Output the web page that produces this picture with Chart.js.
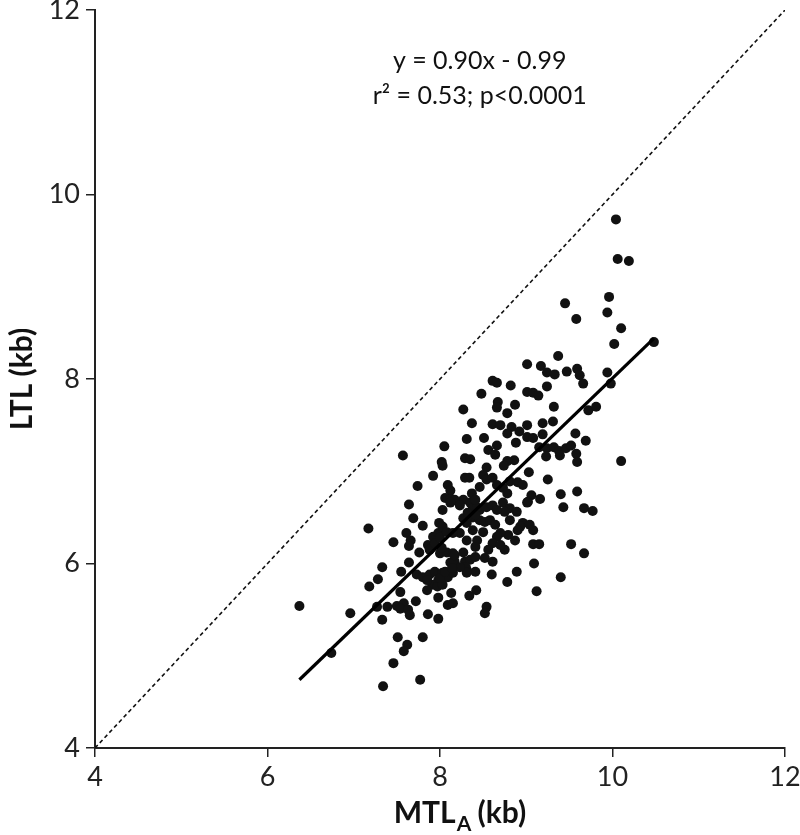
<!DOCTYPE html>
<html>
<head>
<meta charset="utf-8">
<script src="https://cdn.jsdelivr.net/npm/chart.js@4"></script>
<style>
html,body{margin:0;padding:0;background:#fff;}
canvas{display:block;}
</style>
</head>
<body>
<canvas id="c" width="800" height="835"></canvas>
<script>
// MTL_A (kb) values of each subject
const mtlA = [
10.04,10.06,10.19,9.96,9.45,9.94,9.58,10.10,10.02,10.48,
9.37,9.01,9.17,9.59,9.62,9.66,9.47,9.24,9.33,9.94,
9.98,8.61,8.66,8.82,8.48,9.01,9.08,9.14,9.24,8.27,
8.67,8.66,8.78,8.87,9.32,9.72,9.81,8.37,8.61,8.70,
8.83,8.92,9.01,9.19,9.31,8.78,8.31,8.51,9.01,9.08,
9.19,9.57,9.69,8.88,8.66,8.56,9.15,9.24,9.32,9.38,
9.46,9.52,9.39,9.23,9.58,9.59,10.10,8.64,8.29,8.35,
8.86,8.78,8.74,8.54,9.03,8.29,8.50,8.54,8.61,8.66,
8.81,8.90,8.96,8.73,8.78,9.25,8.37,9.06,9.02,9.16,
9.40,9.59,9.43,9.67,9.77,8.46,8.54,8.61,8.73,8.81,
8.89,8.27,8.38,8.46,8.96,9.04,
8.05,7.57,8.02,8.03,7.92,7.74,8.09,8.12,8.06,8.12,
8.17,7.64,8.03,8.35,8.38,7.69,7.80,7.99,7.17,8.27,8.31,
7.46,7.61,7.66,7.64,7.76,7.86,7.92,7.98,8.03,8.00,
8.08,8.15,8.23,8.31,8.38,8.12,8.17,8.29,8.35,8.41,
7.33,7.64,7.55,7.28,7.18,7.73,7.80,7.88,7.94,7.98,
8.03,8.09,8.15,7.91,7.97,8.03,8.31,8.42,7.54,8.13,
8.34,7.98,7.72,7.27,7.39,7.50,7.58,7.54,7.63,7.65,
8.09,8.15,7.86,7.98,7.33,6.96,6.37,7.51,7.80,7.62,
7.58,6.74,7.46,7.77,7.34,
9.08,9.15,9.52,9.67,9.09,8.89,8.78,9.40,8.60,8.41,
9.12,8.54,8.52,8.30,8.75,9.08,8.93,8.79,8.70,8.66,
9.01,8.75,8.66,8.43,8.52,8.90,8.61,8.56,8.43,8.41,
8.52,8.61,
8.12,8.23,8.32,8.41,7.88,7.94,8.00,8.08,8.15,8.02,
8.17,8.27,8.31,8.23,7.85,8.00,8.06,8.14,7.85,
8.34,8.46,8.41,8.58,8.70,8.81,8.87,8.50,8.64
];
// LTL (kb) values of each subject
const ltl = [
9.73,9.30,9.28,8.89,8.82,8.72,8.65,8.55,8.38,8.40,
8.25,8.16,8.14,8.11,8.04,7.95,8.08,8.07,8.05,8.07,
7.95,7.98,7.96,7.93,7.84,7.86,7.85,7.82,7.92,7.67,
7.75,7.69,7.63,7.72,7.70,7.66,7.70,7.52,7.51,7.50,
7.48,7.43,7.50,7.52,7.54,7.41,7.35,7.36,7.37,7.36,
7.40,7.41,7.33,7.31,7.28,7.23,7.26,7.25,7.26,7.22,
7.25,7.28,7.17,7.16,7.19,7.10,7.11,7.18,7.14,7.13,
7.12,7.11,7.06,7.04,6.99,6.93,6.96,6.91,6.93,6.85,
6.89,6.88,6.85,6.82,6.76,6.91,6.76,6.74,6.67,6.70,
6.75,6.78,6.61,6.60,6.57,6.58,6.61,6.63,6.66,6.60,
6.56,6.69,6.50,6.47,6.44,6.42,
7.27,7.17,7.10,7.06,6.95,6.84,6.85,6.79,6.71,6.70,
6.69,6.64,6.58,6.66,6.60,6.49,6.41,6.44,6.38,6.49,6.44,
6.23,6.33,6.25,6.19,6.12,6.20,6.29,6.33,6.40,6.11,
6.12,6.11,6.33,6.25,6.36,6.01,6.02,6.02,6.04,6.07,
5.96,6.01,5.91,5.83,5.75,5.88,5.85,5.88,5.91,5.82,
5.90,5.85,5.90,5.77,5.75,5.77,5.93,5.71,5.69,5.68,
5.65,5.63,5.59,5.53,5.53,5.54,5.57,5.51,5.50,5.44,
5.55,5.57,5.45,5.40,5.39,5.46,5.54,5.20,5.20,5.12,
5.05,5.03,4.92,4.74,4.67,
6.21,6.21,6.21,6.11,6.00,5.91,5.80,5.85,5.88,5.91,
5.70,5.53,5.46,5.96,6.15,6.36,6.40,6.31,6.33,6.29,
6.66,6.56,6.58,6.61,6.45,6.36,6.22,6.15,6.25,6.18,
6.06,6.02,
6.66,6.63,6.55,6.53,6.15,6.22,6.28,6.34,6.33,6.17,
6.09,6.12,5.90,5.96,5.82,5.84,5.91,5.95,5.71,
6.93,6.83,6.69,6.47,6.20,6.47,6.25,6.34,6.42
];
// Regression line end points (y = 0.90x - 0.99)
const fitX = [6.37, 10.48];
const fitY = [4.74, 8.44];
// Line of identity
const idX = [4, 12];
const idY = [4, 12];
const tickValues = [4, 6, 8, 10, 12];
const eqLines = ["y = 0.90x - 0.99", "r\u00B2 = 0.53; p<0.0001"];
const eqAnchor = {x: 8.46, y: [11.45, 11.07]};

const FONT = "Lato, 'Open Sans', 'DejaVu Sans', sans-serif";

const textPlugin = {
  id: 'texts',
  afterDraw(chart) {
    const ctx = chart.ctx;
    const xs = chart.scales.x, ys = chart.scales.y;
    ctx.save();
    ctx.fillStyle = '#111';
    ctx.font = '25px ' + FONT;
    ctx.textAlign = 'center';
    ctx.textBaseline = 'middle';
    const cx = xs.getPixelForValue(eqAnchor.x);
    eqLines.forEach((t, i) => ctx.fillText(t, cx, ys.getPixelForValue(eqAnchor.y[i])));
    // x-axis title with subscript
    const midX = 460;
    const baseY = 823;
    const big = 'bold 30px ' + FONT, small = 'bold 21px ' + FONT;
    const p1 = 'MTL', p3 = ' (kb)';
    ctx.textBaseline = 'alphabetic';
    ctx.font = big;
    const w1 = ctx.measureText(p1).width;
    const w3 = ctx.measureText(p3).width;
    ctx.font = small;
    const w2 = ctx.measureText('A').width;
    const total = w1 + w2 + w3;
    let x0 = midX - total / 2;
    ctx.textAlign = 'left';
    ctx.font = big;
    ctx.fillText(p1, x0, baseY);
    ctx.font = small;
    ctx.fillText('A', x0 + w1 + 1, baseY + 8);
    ctx.font = big;
    ctx.fillText(p3, x0 + w1 + w2, baseY);
    ctx.restore();
  }
};

const axisCommon = {
  type: 'linear',
  min: 4, max: 12,
  border: {display: true, color: '#222', width: 2},
  grid: {display: true, drawOnChartArea: false, drawTicks: true, tickLength: 9, color: '#222', lineWidth: 1.5},
  afterBuildTicks(scale) { scale.ticks = tickValues.map(v => ({value: v})); },
};

new Chart(document.getElementById('c'), {
  type: 'scatter',
  data: {
    datasets: [
      {
        label: 'Subjects',
        data: mtlA.map((x, i) => ({x: x, y: ltl[i]})),
        backgroundColor: '#111',
        borderColor: '#111',
        borderWidth: 0,
        pointRadius: 5,
        order: 1
      },
      {
        label: 'Regression',
        type: 'line',
        data: fitX.map((x, i) => ({x: x, y: fitY[i]})),
        borderColor: '#000',
        borderWidth: 3.2,
        pointRadius: 0,
        fill: false,
        order: 0
      },
      {
        label: 'Identity',
        type: 'line',
        data: idX.map((x, i) => ({x: x, y: idY[i]})),
        borderColor: '#111',
        borderWidth: 1.6,
        borderDash: [4, 3],
        pointRadius: 0,
        fill: false,
        order: 2
      }
    ]
  },
  options: {
    responsive: false,
    animation: false,
    devicePixelRatio: 1,
    layout: {padding: {top: 10, right: 15, left: 0, bottom: 0}},
    plugins: {legend: {display: false}, tooltip: {enabled: false}},
    scales: {
      x: Object.assign({}, axisCommon, {
        position: 'bottom',
        ticks: {color: '#222', font: {family: FONT, size: 27}, padding: 4, maxRotation: 0},
        afterFit(scale) { scale.height = 87; scale.paddingLeft = 0; scale.paddingRight = 0; }
      }),
      y: Object.assign({}, axisCommon, {
        position: 'left',
        ticks: {color: '#222', font: {family: FONT, size: 27}, padding: 6},
        title: {display: true, text: 'LTL (kb)', color: '#111', font: {family: FONT, size: 30, weight: 'bold'}, padding: {top: 4, bottom: 0}},
        afterFit(scale) { scale.width = 95; scale.paddingTop = 0; scale.paddingBottom = 0; }
      })
    }
  },
  plugins: [textPlugin]
});
</script>
</body>
</html>
